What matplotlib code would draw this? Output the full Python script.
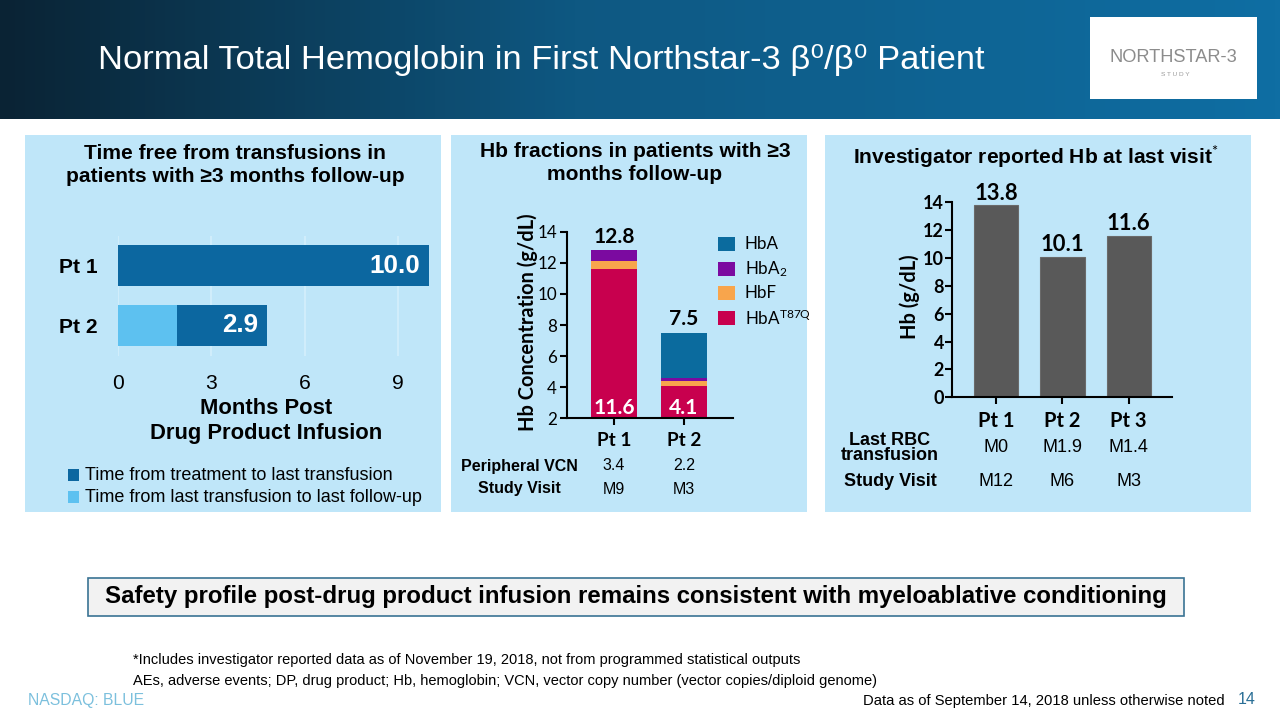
import matplotlib
matplotlib.use('Agg')
from matplotlib import pyplot as plt
from matplotlib.patches import Rectangle
from matplotlib.colors import LinearSegmentedColormap
from matplotlib.transforms import blended_transform_factory
import numpy as np

ARIAL = ['Liberation Sans', 'DejaVu Sans']
CAL = ['Lato', 'DejaVu Sans']

plt.rcParams.update({
    'font.family': ARIAL,
    'mathtext.fontset': 'custom',
    'mathtext.rm': 'Lato',
    'mathtext.it': 'Lato:italic',
    'mathtext.bf': 'Lato:bold',
})

# --- data ---------------------------------------------------------------
# panel 1: time free from transfusions (months)
free_pts = ['Pt 1', 'Pt 2']
to_last_tx = [0.0, 1.9]
tx_free = [10.0, 2.9]
free_ticks = [0, 3, 6, 9]

# panel 2: Hb fractions (g/dL)
frac_pts = ['Pt 1', 'Pt 2']
hb_t87q = [11.6, 4.1]
hb_f = [0.5, 0.3]
hb_a2 = [0.7, 0.2]
hb_a = [0.0, 2.9]
hb_total = [12.8, 7.5]
periph_vcn = ['3.4', '2.2']
visit_frac = ['M9', 'M3']
frac_ticks = [2, 4, 6, 8, 10, 12, 14]

# panel 3: investigator reported Hb at last visit (g/dL)
last_pts = ['Pt 1', 'Pt 2', 'Pt 3']
hb_last = [13.8, 10.1, 11.6]
last_rbc = ['M0', 'M1.9', 'M1.4']
visit_last = ['M12', 'M6', 'M3']
last_ticks = [0, 2, 4, 6, 8, 10, 12, 14]

# --- colours ------------------------------------------------------------
PANEL = '#bfe6f9'
DARK = '#0c67a0'
LIGHT = '#5dc1f0'
C_T87Q = '#c8004e'
C_F = '#f8a54c'
C_A2 = '#7b0aa0'
C_A = '#0b6b9e'
GRAY = '#595959'

W, H = 1280, 720


def fx(x):
    return x / W


def fy(y):
    return 1 - y / H


def px(s):
    # pixel height -> points at dpi 100
    return s * 0.72


def axes_box(fig, left, top, right, bottom):
    return fig.add_axes([fx(left), fy(bottom), (right - left) / W, (bottom - top) / H])


def frect(fig, x0, y0, x1, y1, **kw):
    fig.patches.append(Rectangle((fx(x0), fy(y1)), (x1 - x0) / W, (y1 - y0) / H,
                                 transform=fig.transFigure, **kw))


fig = plt.figure(figsize=(12.8, 7.2), dpi=100)
fig.patch.set_facecolor('white')

# header band
cmap = LinearSegmentedColormap.from_list('hdr', [(0, '#0a2334'), (0.45, '#0e5882'), (1, '#0f6ea3')])
axh = fig.add_axes([0, fy(119), 1, 119 / H])
axh.imshow(np.linspace(0, 1, 256)[None, :], aspect='auto', cmap=cmap, extent=[0, 1, 0, 1])
axh.axis('off')
fig.text(fx(98), fy(60), 'Normal Total Hemoglobin in First Northstar-3 β⁰/β⁰ Patient',
         color='white', fontsize=px(34.5), ha='left', va='center')

# logo
frect(fig, 1090, 17, 1257, 99, facecolor='white', edgecolor='none', zorder=1)
fig.text(fx(1173), fy(58), 'NORTHSTAR-3', color='#8c8c8c', fontsize=px(18.3),
         ha='center', va='center', family=ARIAL, zorder=2)
fig.text(fx(1175), fy(74), 'S T U D Y', color='#9a9a9a', fontsize=px(6.5),
         ha='center', va='center', zorder=2)

# panels (behind the axes)
for x0, x1 in [(25, 441), (451, 807), (825, 1251)]:
    frect(fig, x0, 135, x1, 512, facecolor=PANEL, edgecolor='none', zorder=-1)

# ---------------- panel 1 ----------------
fig.text(fx(235), fy(165), 'Time free from transfusions in\npatients with ≥3 months follow-up',
         ha='center', va='center', fontsize=px(21), fontweight='bold', linespacing=1.3)

ax1 = axes_box(fig, 118, 235.5, 429, 355.5)
ax1.patch.set_alpha(0)
y1 = np.arange(len(free_pts))
ax1.barh(y1, to_last_tx, height=0.667, color=LIGHT, zorder=2)
ax1.barh(y1, tx_free, left=to_last_tx, height=0.667, color=DARK, zorder=2)
for yi, l, v in zip(y1, to_last_tx, tx_free):
    ax1.annotate(f'{v:.1f}', (l + v, yi), xytext=(-6.5, 0), textcoords='offset points',
                 ha='right', va='center', color='white', fontweight='bold', fontsize=px(26))
ax1.set_xlim(0, 10)
ax1.set_ylim(1.5, -0.5)
ax1.set_xticks(free_ticks)
ax1.set_yticks(y1)
ax1.set_yticklabels(free_pts, fontweight='bold', fontsize=px(21))
ax1.tick_params(axis='x', length=0, labelsize=px(21), pad=13)
ax1.tick_params(axis='y', length=0, pad=15)
ax1.grid(axis='x', color='#d4effc', lw=1.2, zorder=0)
for s in ax1.spines.values():
    s.set_visible(False)

fig.text(fx(266), fy(421), 'Months Post\nDrug Product Infusion', ha='center', va='center',
         fontsize=px(22), fontweight='bold', linespacing=1.25)

legend1 = [(DARK, 'Time from treatment to last transfusion'),
           (LIGHT, 'Time from last transfusion to last follow-up')]
for i, (c, lab) in enumerate(legend1):
    yy = 475 + i * 22
    frect(fig, 68, yy - 6, 79, yy + 6, facecolor=c, edgecolor='none', zorder=2)
    fig.text(fx(85), fy(yy), lab, ha='left', va='center', fontsize=px(18))

# ---------------- panel 2 ----------------
fig.text(fx(635), fy(163), 'Hb fractions in patients with ≥3\nmonths follow-up',
         ha='center', va='center', fontsize=px(21), fontweight='bold', linespacing=1.3)

ax2 = axes_box(fig, 566.7, 231.7, 732.7, 418.3)
ax2.patch.set_alpha(0)
x2 = np.arange(len(frac_pts))
bw2 = 0.667
b = np.zeros(len(frac_pts))
for vals, c in [(hb_t87q, C_T87Q), (hb_f, C_F), (hb_a2, C_A2), (hb_a, C_A)]:
    ax2.bar(x2, vals, bw2, bottom=b, color=c, zorder=2)
    b = b + np.array(vals)
for xi, t, t87 in zip(x2, hb_total, hb_t87q):
    ax2.annotate(f'{t}', (xi, t), xytext=(0, 2.5), textcoords='offset points', ha='center',
                 va='bottom', fontweight='bold', fontsize=px(21), family=CAL)
    ax2.text(xi, 2.25, f'{t87}', ha='center', va='baseline', color='white',
             fontweight='bold', fontsize=px(21), family=CAL, zorder=3)
ax2.set_ylim(2, 14)
ax2.set_xlim(-0.676, 1.696)
ax2.set_yticks(frac_ticks)
ax2.set_xticks(x2)
ax2.set_xticklabels(frac_pts, fontweight='bold', fontsize=px(19), family=CAL)
for lab in ax2.get_yticklabels():
    lab.set_family(CAL)
ax2.tick_params(axis='y', labelsize=px(17), length=5, width=1.5, pad=2)
ax2.tick_params(axis='x', length=5, width=1.5, pad=5)
ax2.spines[['top', 'right']].set_visible(False)
ax2.spines[['left', 'bottom']].set_linewidth(1.5)
fig.text(fx(528), fy(322), 'Hb Concentration (g/dL)', rotation=90, ha='center', va='center',
         fontsize=px(20), fontweight='bold', family=CAL)

legend2 = [(C_A, 'HbA'), (C_A2, r'HbA$_2$'), (C_F, 'HbF'), (C_T87Q, r'HbA$^{\mathrm{T87Q}}$')]
for i, (c, lab) in enumerate(legend2):
    yy = 244 + i * 24.7
    frect(fig, 718, yy - 7, 735, yy + 7, facecolor=c, edgecolor='none', zorder=2)
    fig.text(fx(745), fy(yy), lab, ha='left', va='center', fontsize=px(17), family=CAL)

tr2 = blended_transform_factory(ax2.transData, fig.transFigure)
for row_y, label, vals in [(466, 'Peripheral VCN', periph_vcn), (489, 'Study Visit', visit_frac)]:
    fig.text(fx(519), fy(row_y), label, ha='center', va='center', fontsize=px(16), fontweight='bold')
    for xi, v in zip(x2, vals):
        ax2.text(xi, fy(row_y), v, transform=tr2, ha='center', va='center', fontsize=px(16))

# ---------------- panel 3 ----------------
fig.text(fx(1036), fy(157), r'Investigator reported Hb at last visit$^{*}$',
         ha='center', va='center', fontsize=px(21), fontweight='bold')

ax3 = axes_box(fig, 952.3, 202.3, 1171.7, 397.3)
ax3.patch.set_alpha(0)
x3 = np.arange(len(last_pts))
ax3.bar(x3, hb_last, 0.665, color=GRAY, edgecolor='#6a6a6a', lw=0.8, zorder=2)
for xi, v in zip(x3, hb_last):
    ax3.annotate(f'{v}', (xi, v), xytext=(0, 1), textcoords='offset points', ha='center',
                 va='bottom', fontweight='bold', fontsize=px(22), family=CAL, annotation_clip=False)
ax3.set_ylim(0, 14)
ax3.set_xlim(-0.665, 2.65)
ax3.set_yticks(last_ticks)
ax3.set_xticks(x3)
ax3.set_xticklabels(last_pts, fontweight='bold', fontsize=px(20), family=CAL)
for lab in ax3.get_yticklabels():
    lab.set_family(CAL)
    lab.set_fontweight('bold')
ax3.tick_params(axis='y', labelsize=px(18), length=5, width=1.5, pad=1)
ax3.tick_params(axis='x', length=5, width=1.5, pad=5)
ax3.spines[['top', 'right']].set_visible(False)
ax3.spines[['left', 'bottom']].set_linewidth(1.5)
fig.text(fx(910), fy(297), 'Hb (g/dL)', rotation=90, ha='center', va='center',
         fontsize=px(20), fontweight='bold', family=CAL)

tr3 = blended_transform_factory(ax3.transData, fig.transFigure)
fig.text(fx(890), fy(448), 'Last RBC\ntransfusion', ha='center', va='center', fontsize=px(18),
         fontweight='bold', linespacing=0.9)
fig.text(fx(890), fy(482), 'Study Visit', ha='center', va='center', fontsize=px(18), fontweight='bold')
for row_y, vals in [(448, last_rbc), (482, visit_last)]:
    for xi, v in zip(x3, vals):
        ax3.text(xi, fy(row_y), v, transform=tr3, ha='center', va='center', fontsize=px(18))

# ---------------- bottom ----------------
frect(fig, 88, 578, 1184, 616, facecolor='#f2f2f2', edgecolor='#3a7394', lw=1.2, zorder=1)
fig.text(fx(636), fy(597), 'Safety profile post-drug product infusion remains consistent with myeloablative conditioning',
         ha='center', va='center', fontsize=px(24), fontweight='bold', zorder=2)

fig.text(fx(133), fy(660), '*Includes investigator reported data as of November 19, 2018, not from programmed statistical outputs',
         ha='left', va='center', fontsize=px(14.6))
fig.text(fx(133), fy(681), 'AEs, adverse events; DP, drug product; Hb, hemoglobin; VCN, vector copy number (vector copies/diploid genome)',
         ha='left', va='center', fontsize=px(14.6))
fig.text(fx(28), fy(701), 'NASDAQ: BLUE', ha='left', va='center', fontsize=px(15.8), color='#7cc0dd')
fig.text(fx(1225), fy(701), 'Data as of September 14, 2018 unless otherwise noted',
         ha='right', va='center', fontsize=px(14.7))
fig.text(fx(1238), fy(700), '14', ha='left', va='center', fontsize=px(16), color='#2a6f96')

fig.savefig('out.png', dpi=100)
plt.close(fig)
